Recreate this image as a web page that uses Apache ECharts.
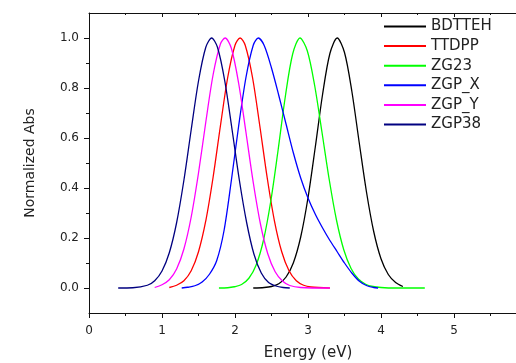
<!DOCTYPE html>
<html>
<head>
<meta charset="utf-8">
<script src="https://cdn.jsdelivr.net/npm/echarts@6/dist/echarts.min.js"></script>
<style>
  html, body { margin: 0; padding: 0; background: #fff; }
  #chart { width: 516px; height: 363px; }
</style>
</head>
<body>
<div id="chart"></div>
<script>
// 各样品归一化吸收谱 (能量 eV / 归一化强度)
const seriesNames = ['BDTTEH', 'TTDPP', 'ZG23', 'ZGP_X', 'ZGP_Y', 'ZGP38'];
const seriesColors = ['#000000', '#ff0000', '#00ff00', '#0000ff', '#ff00ff', '#000080'];

const bdttehX = [2.25, 2.4, 2.5, 2.6, 2.7, 2.8, 2.9, 3.0, 3.1, 3.2, 3.3, 3.4, 3.5, 3.6, 3.7, 3.8, 3.9, 4.0, 4.1, 4.2, 4.3];
const bdttehY = [0, 0.002, 0.006, 0.017, 0.044, 0.101, 0.204, 0.361, 0.564, 0.775, 0.938, 1.0, 0.942, 0.788, 0.585, 0.386, 0.226, 0.117, 0.054, 0.022, 0.006];

const ttdppX = [1.1, 1.2, 1.3, 1.4, 1.5, 1.6, 1.7, 1.8, 1.9, 2.0, 2.07, 2.14, 2.24, 2.34, 2.44, 2.54, 2.64, 2.74, 2.84, 2.94, 3.04, 3.3];
const ttdppY = [0.002, 0.011, 0.029, 0.069, 0.145, 0.269, 0.443, 0.648, 0.842, 0.971, 1.0, 0.971, 0.842, 0.648, 0.443, 0.269, 0.145, 0.069, 0.029, 0.011, 0.004, 0];

const zg23X = [1.78, 1.9, 1.99, 2.09, 2.19, 2.29, 2.39, 2.49, 2.59, 2.69, 2.79, 2.89, 2.99, 3.09, 3.19, 3.29, 3.39, 3.49, 3.59, 3.69, 3.79, 3.89, 4.0, 4.2, 4.6];
const zg23Y = [0, 0.001, 0.005, 0.014, 0.039, 0.092, 0.191, 0.347, 0.551, 0.767, 0.936, 1.0, 0.949, 0.812, 0.626, 0.435, 0.272, 0.153, 0.078, 0.036, 0.015, 0.006, 0.002, 0, 0];

const zgpXX = [1.27, 1.35, 1.45, 1.55, 1.65, 1.75, 1.85, 1.95, 2.05, 2.15, 2.25, 2.32, 2.4, 2.5, 2.6, 2.7, 2.8, 2.9, 3.0, 3.1, 3.2, 3.3, 3.4, 3.5, 3.6, 3.7, 3.8, 3.9, 3.96];
const zgpXY = [0, 0.003, 0.009, 0.024, 0.055, 0.11, 0.23, 0.43, 0.648, 0.842, 0.971, 1.0, 0.97, 0.88, 0.77, 0.655, 0.54, 0.44, 0.36, 0.295, 0.24, 0.19, 0.145, 0.1, 0.06, 0.028, 0.01, 0.002, 0];

const zgpYX = [0.9, 1.0, 1.1, 1.2, 1.3, 1.4, 1.5, 1.6, 1.7, 1.8, 1.865, 1.95, 2.05, 2.15, 2.25, 2.35, 2.45, 2.55, 2.65, 2.75, 2.9, 3.3];
const zgpYY = [0.002, 0.013, 0.033, 0.076, 0.156, 0.284, 0.46, 0.664, 0.853, 0.976, 1.0, 0.959, 0.819, 0.623, 0.422, 0.254, 0.136, 0.065, 0.028, 0.010, 0.002, 0];

const zgp38X = [0.4, 0.6, 0.8, 0.9, 1.0, 1.1, 1.2, 1.3, 1.4, 1.5, 1.6, 1.68, 1.76, 1.86, 1.96, 2.06, 2.16, 2.26, 2.36, 2.46, 2.56, 2.66, 2.75];
const zgp38Y = [0, 0.001, 0.011, 0.029, 0.068, 0.141, 0.261, 0.431, 0.633, 0.828, 0.963, 1.0, 0.963, 0.828, 0.633, 0.431, 0.261, 0.135, 0.06, 0.022, 0.008, 0.002, 0];

// 刻度
const yMajorTicks = [0, 0.2, 0.4, 0.6, 0.8, 1.0];
const yMinorTicks = [0.1, 0.3, 0.5, 0.7, 0.9];

const xs = [bdttehX, ttdppX, zg23X, zgpXX, zgpYX, zgp38X];
const ys = [bdttehY, ttdppY, zg23Y, zgpXY, zgpYY, zgp38Y];

const font = 'DejaVu Sans';
const axisColor = '#111';

const chart = echarts.init(document.getElementById('chart'));

const option = {
  animation: false,
  backgroundColor: '#fff',
  // 右边框在画布外（原图被裁掉）
  grid: { left: 89, right: -11, top: 13, bottom: 50, containLabel: false, outerBoundsMode: 'none' },
  legend: {
    orient: 'vertical',
    left: 378,
    top: 14,
    itemWidth: 42,
    itemHeight: 14,
    itemGap: 4.6,
    data: seriesNames,
    itemStyle: { opacity: 0 },
    textStyle: { fontFamily: font, fontSize: 15, color: '#222' },
  },
  xAxis: [
    {
      type: 'value',
      min: 0,
      max: 6,
      interval: 1,
      name: 'Energy (eV)',
      nameLocation: 'middle',
      nameGap: 33,
      nameTextStyle: { fontFamily: font, fontSize: 15, color: '#222' },
      axisLine: { show: true, onZero: false, lineStyle: { color: axisColor, width: 1 } },
      axisTick: { show: true, inside: false, length: 5, lineStyle: { color: axisColor } },
      minorTick: { show: true, splitNumber: 2, length: 3, lineStyle: { color: axisColor } },
      axisLabel: { fontFamily: font, fontSize: 12, color: '#222', margin: 12 },
      splitLine: { show: false },
    },
    {
      type: 'value',
      position: 'top',
      min: 0,
      max: 6,
      interval: 1,
      axisLine: { show: true, onZero: false, lineStyle: { color: axisColor, width: 1 } },
      axisTick: { show: true, inside: true, length: 4, lineStyle: { color: axisColor } },
      minorTick: { show: true, splitNumber: 2, length: 2, lineStyle: { color: axisColor } },
      axisLabel: { show: false },
      splitLine: { show: false },
    },
  ],
  yAxis: [
    {
      type: 'value',
      min: -0.1,
      max: 1.1,
      name: 'Normalized Abs',
      nameLocation: 'middle',
      nameGap: 52,
      nameTextStyle: { fontFamily: font, fontSize: 14, color: '#222' },
      axisLine: { show: true, onZero: false, lineStyle: { color: axisColor, width: 1 } },
      axisTick: { show: true, length: 5, customValues: yMajorTicks, lineStyle: { color: axisColor } },
      axisLabel: {
        fontFamily: font,
        fontSize: 12,
        color: '#222',
        margin: 10,
        customValues: yMajorTicks,
        formatter: (v) => v.toFixed(1),
      },
      splitLine: { show: false },
    },
    {
      type: 'value',
      position: 'left',
      min: -0.1,
      max: 1.1,
      axisLine: { show: false },
      axisTick: { show: true, length: 3, customValues: yMinorTicks, lineStyle: { color: axisColor } },
      axisLabel: { show: false },
      splitLine: { show: false },
    },
  ],
  series: seriesNames.map((name, i) => ({
    type: 'line',
    name,
    xAxisIndex: 0,
    yAxisIndex: 0,
    symbol: 'none',
    smooth: 0.3,
    data: xs[i].map((x, j) => [x, ys[i][j]]),
    lineStyle: { color: seriesColors[i], width: 1.3 },
    itemStyle: { color: seriesColors[i] },
  })),
};

chart.setOption(option);
</script>
</body>
</html>
